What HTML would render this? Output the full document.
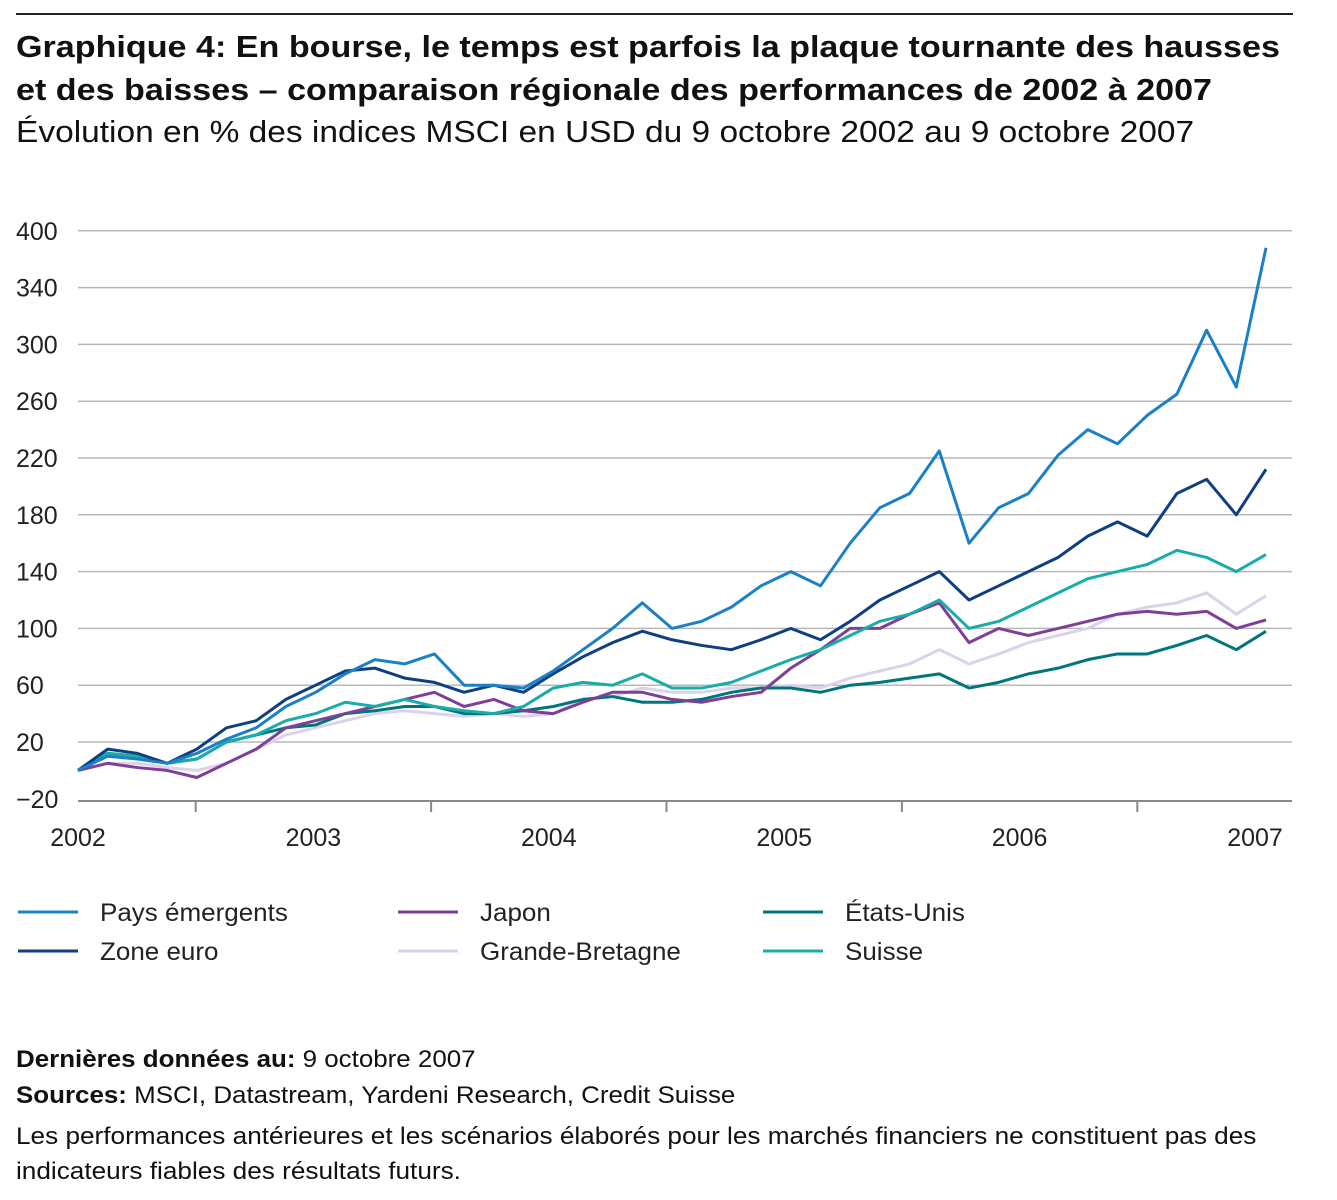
<!DOCTYPE html>
<html><head><meta charset="utf-8"><style>
body{margin:0;background:#fff;width:1337px;height:1200px;overflow:hidden;font-family:"Liberation Sans",sans-serif;color:#111}
.t{position:absolute;white-space:nowrap;transform-origin:0 0}
</style></head><body>
<div style="position:absolute;left:16px;top:13px;width:1277px;height:2px;background:#222"></div>
<div class="t" style="left:16px;top:25px;font-size:31px;font-weight:bold;line-height:43px;transform:scaleX(1.1)">Graphique 4: En bourse, le temps est parfois la plaque tournante des hausses<br>et des baisses – comparaison régionale des performances de 2002 à 2007</div>
<div class="t" style="left:16px;top:112px;font-size:31px;line-height:40px;transform:scaleX(1.08)">Évolution en % des indices MSCI en USD du 9 octobre 2002 au 9 octobre 2007</div>
<svg id="chart" width="1337" height="1000" style="position:absolute;left:0;top:0" font-family="Liberation Sans, sans-serif"></svg>
<div class="t" style="left:16px;top:1046px;font-size:24px;transform:scaleX(1.08)"><b>Dernières données au:</b> 9 octobre 2007</div>
<div class="t" style="left:16px;top:1082px;font-size:24px;transform:scaleX(1.08)"><b>Sources:</b> MSCI, Datastream, Yardeni Research, Credit Suisse</div>
<div class="t" style="left:16px;top:1119px;font-size:24px;line-height:35px;transform:scaleX(1.09)">Les performances antérieures et les scénarios élaborés pour les marchés financiers ne constituent pas des<br>indicateurs fiables des résultats futurs.</div>
<script>
const yTicks=[-20,20,60,100,140,180,220,260,300,340,380];
const yTickLabels=["−20","20","60","100","140","180","220","260","300","340","400"];
const xLabels=["2002","2003","2004","2005","2006","2007"];
const seriesNames=["Pays émergents","Zone euro","Japon","Grande-Bretagne","États-Unis","Suisse"];
const emerging=[0,10,8,5,12,22,30,45,55,68,78,75,82,60,60,58,70,85,100,118,100,105,115,130,140,130,160,185,195,225,160,185,195,222,240,230,250,265,310,270,368];
const euro=[0,15,12,5,15,30,35,50,60,70,72,65,62,55,60,55,68,80,90,98,92,88,85,92,100,92,105,120,130,140,120,130,140,150,165,175,165,195,205,180,212];
const japon=[0,5,2,0,-5,5,15,30,35,40,45,50,55,45,50,42,40,48,55,55,50,48,52,55,72,85,100,100,110,118,90,100,95,100,105,110,112,110,112,100,106];
const gb=[0,5,5,2,0,5,15,25,30,35,40,42,40,38,40,38,40,50,52,58,55,55,58,58,60,58,65,70,75,85,75,82,90,95,100,110,115,118,125,110,123];
const usa=[0,12,10,5,8,20,25,30,32,40,42,45,45,40,40,42,45,50,52,48,48,50,55,58,58,55,60,62,65,68,58,62,68,72,78,82,82,88,95,85,98];
const suisse=[0,12,10,5,8,20,25,35,40,48,45,50,45,42,40,45,58,62,60,68,58,58,62,70,78,85,95,105,110,120,100,105,115,125,135,140,145,155,150,140,152];
const NS="http://www.w3.org/2000/svg",svg=document.getElementById('chart');
const X0=78,X1=1266;
const y=v=>742-(v-20)*1.42;
const x=i=>X0+(X1-X0)*i/(emerging.length-1);
function el(t,a){const e=document.createElementNS(NS,t);for(const k in a)e.setAttribute(k,a[k]);svg.appendChild(e);return e;}
yTicks.forEach((v,i)=>{
  if(i>0){const g=el('line',{x1:78,x2:1292,y1:y(v),y2:y(v),stroke:'#b8b8b8','stroke-width':1.5});
  
  }
  const t=el('text',{x:16,y:y(v)+9,'font-size':25,fill:'#222'});t.textContent=yTickLabels[i];
  
  
});
const ax=el('line',{x1:78,x2:1292,y1:801,y2:801,stroke:'#888','stroke-width':2});


xLabels.forEach((s,i)=>{
  const cx=78+235.4*i;
  const t=el('text',{x:cx,y:846,'font-size':25,fill:'#222','text-anchor':'middle'});t.textContent=s;
  
  
  if(i<5){const k=el('line',{x1:cx+117.7,x2:cx+117.7,y1:801,y2:812,stroke:'#888','stroke-width':2});
  
  }
});
const data=[emerging,euro,japon,gb,usa,suisse];
const colors=["#1b80c8","#0e3f82","#7e3f98","#dcd2ea","#00767b","#1aaca9"];
const order=[3,4,2,5,1,0];
order.forEach(s=>{
  const p=el('polyline',{points:data[s].map((v,i)=>x(i)+','+y(v)).join(' '),fill:'none',stroke:colors[s],'stroke-width':3,'stroke-linejoin':'round'});
  
  
});
const lx=[18,398,763];
seriesNames.forEach((n,s)=>{
  const col=Math.floor(s/2),row=s%2,ly=912+row*39;
  const l=el('line',{x1:lx[col],x2:lx[col]+60,y1:ly,y2:ly,stroke:colors[s],'stroke-width':3});
  
  
  const t=el('text',{x:lx[col]+82,y:ly+9,'font-size':25,fill:'#222',transform:'translate('+(lx[col]+82)+',0) scale(1.04,1) translate('+(-(lx[col]+82))+',0)'});t.textContent=n;
  
  
});
</script>
</body></html>
